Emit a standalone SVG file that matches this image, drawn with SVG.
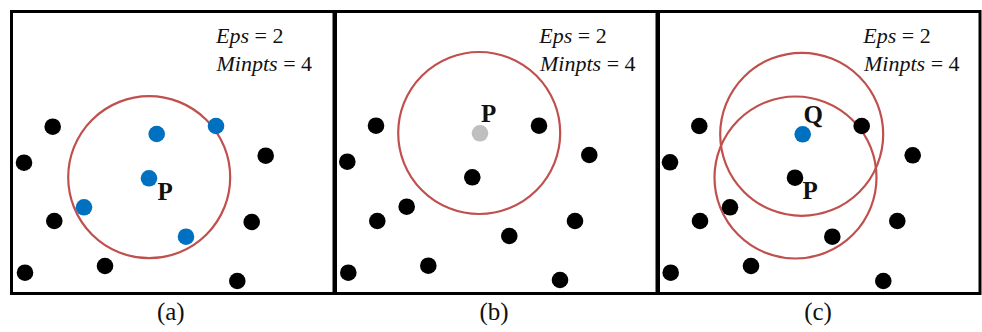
<svg xmlns="http://www.w3.org/2000/svg" width="982" height="332" viewBox="0 0 982 332">
<style>
.frame{fill:none;stroke:#000;stroke-width:3}
.eps{fill:none;stroke:#C0504D;stroke-width:2.2}
.blk{fill:#000}
.blu{fill:#0070C0}
.gry{fill:#BFBFBF}
text{font-family:'Liberation Serif','DejaVu Serif',serif}
.par{font-size:22px;fill:#111}
.it{font-style:italic}
.lbl{font-size:25px;font-weight:bold;fill:#111}
.cap{font-size:25px;fill:#111;text-anchor:middle}
</style>
<rect x="0" y="0" width="982" height="332" fill="#fff"/>
<g id="panel-a">
<rect class="frame" x="11.5" y="11.5" width="322.5" height="282"/>
<text class="par" x="216" y="43" font-family="Liberation Serif"><tspan class="it">Eps</tspan> = 2</text>
<text class="par" x="216.5" y="71" font-family="Liberation Serif"><tspan class="it">Minpts</tspan> = 4</text>
<circle class="eps" cx="149.2" cy="177.2" r="81"/>
<g id="a-black">
<circle class="blk" cx="52.7" cy="126.7" r="8.3"/>
<circle class="blk" cx="24" cy="162.7" r="8.3"/>
<circle class="blk" cx="54.3" cy="221" r="8.3"/>
<circle class="blk" cx="25" cy="272.7" r="8.3"/>
<circle class="blk" cx="105" cy="266" r="8.3"/>
<circle class="blk" cx="265.7" cy="155.7" r="8.3"/>
<circle class="blk" cx="251.7" cy="222" r="8.3"/>
<circle class="blk" cx="237.3" cy="281" r="8.3"/>
</g>
<g id="a-blue">
<circle class="blu" cx="156.7" cy="134" r="8.3"/>
<circle class="blu" cx="216" cy="126" r="8.3"/>
<circle class="blu" cx="149" cy="178.3" r="8.3"/>
<circle class="blu" cx="84" cy="207.3" r="8.3"/>
<circle class="blu" cx="186" cy="236.7" r="8.3"/>
</g>
<text class="lbl" x="157.5" y="200" font-family="Liberation Serif">P</text>
<text class="cap" x="170.8" y="319.5" font-family="Liberation Serif">(a)</text>
</g>
<g id="panel-b">
<rect class="frame" x="335.5" y="11.5" width="321.5" height="282"/>
<text class="par" x="539.3" y="43" font-family="Liberation Serif"><tspan class="it">Eps</tspan> = 2</text>
<text class="par" x="540" y="71" font-family="Liberation Serif"><tspan class="it">Minpts</tspan> = 4</text>
<circle class="eps" cx="479.2" cy="133" r="81"/>
<g id="b-black">
<circle class="blk" cx="376" cy="125.7" r="8.3"/>
<circle class="blk" cx="347.3" cy="161.7" r="8.3"/>
<circle class="blk" cx="377.3" cy="221" r="8.3"/>
<circle class="blk" cx="406.7" cy="206.7" r="8.3"/>
<circle class="blk" cx="348.3" cy="272.7" r="8.3"/>
<circle class="blk" cx="428.3" cy="265.7" r="8.3"/>
<circle class="blk" cx="472.3" cy="177.3" r="8.3"/>
<circle class="blk" cx="539" cy="125.7" r="8.3"/>
<circle class="blk" cx="589.3" cy="155" r="8.3"/>
<circle class="blk" cx="575" cy="221" r="8.3"/>
<circle class="blk" cx="509.3" cy="236" r="8.3"/>
<circle class="blk" cx="560" cy="280" r="8.3"/>
</g>
<circle id="b-gray" class="gry" cx="480" cy="133.3" r="8.3"/>
<text class="lbl" x="481" y="122.3" font-family="Liberation Serif">P</text>
<text class="cap" x="494" y="319.5" font-family="Liberation Serif">(b)</text>
</g>
<g id="panel-c">
<rect class="frame" x="658.5" y="11.5" width="321.5" height="282"/>
<text class="par" x="863.3" y="43.3" font-family="Liberation Serif"><tspan class="it">Eps</tspan> = 2</text>
<text class="par" x="864" y="71" font-family="Liberation Serif"><tspan class="it">Minpts</tspan> = 4</text>
<circle class="eps" cx="801.7" cy="134.3" r="81.5"/>
<circle class="eps" cx="795.5" cy="177.5" r="81"/>
<g id="c-black">
<circle class="blk" cx="699.3" cy="126" r="8.3"/>
<circle class="blk" cx="670" cy="162.3" r="8.3"/>
<circle class="blk" cx="700" cy="221" r="8.3"/>
<circle class="blk" cx="730" cy="207.3" r="8.3"/>
<circle class="blk" cx="670.7" cy="272.7" r="8.3"/>
<circle class="blk" cx="751" cy="266" r="8.3"/>
<circle class="blk" cx="795" cy="177.7" r="8.3"/>
<circle class="blk" cx="861.7" cy="126" r="8.3"/>
<circle class="blk" cx="912.7" cy="155.3" r="8.3"/>
<circle class="blk" cx="897.3" cy="221" r="8.3"/>
<circle class="blk" cx="832.3" cy="236.7" r="8.3"/>
<circle class="blk" cx="883.3" cy="281" r="8.3"/>
</g>
<circle id="c-blue" class="blu" cx="802.7" cy="134.3" r="8.3"/>
<text class="lbl" x="803.5" y="123" font-family="Liberation Serif">Q</text>
<text class="lbl" x="802.5" y="198.5" font-family="Liberation Serif">P</text>
<text class="cap" x="818" y="319.5" font-family="Liberation Serif">(c)</text>
</g>
</svg>
